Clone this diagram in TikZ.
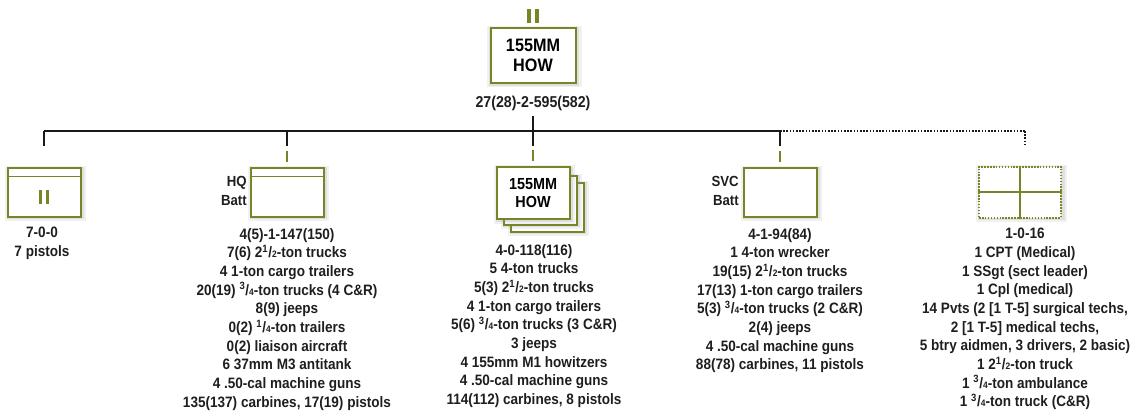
\documentclass[tikz,border=0pt]{standalone}
\usepackage{fontspec}
\setmainfont{Liberation Sans}[FakeStretch=0.9]
\usepackage{tikz}
\usetikzlibrary{positioning,calc,shadows}
\definecolor{unitgreen}{RGB}{120,132,38}
\definecolor{treeblack}{RGB}{25,25,25}
\definecolor{textgrey}{RGB}{30,30,30}
\newcommand{\frc}[2]{\textsuperscript{#1}/{\scriptsize #2}}
\newcommand{\btnbars}[2]{\textcolor{unitgreen}{\rule{#1}{#2}\hspace{3pt}\rule{#1}{#2}}}

\begin{document}
\begin{tikzpicture}[
    x=0.75pt, y=-0.75pt,
    unit/.style={rectangle, draw=unitgreen, line width=1.5pt, fill=white, inner sep=0pt,
                 minimum width=54.75pt, minimum height=36.75pt, align=center,
                 font=\bfseries\fontsize{12pt}{14pt}\selectfont,
                 general shadow={fill=black!45, opacity=0.12, shadow scale=1.12,
                                 shadow xshift=1pt, shadow yshift=-1pt},
                 general shadow={fill=black!45, opacity=0.18, shadow scale=1.06,
                                 shadow xshift=1pt, shadow yshift=-1pt}},
    bigunit/.style={unit, minimum width=63.75pt, minimum height=41.25pt,
                    font=\bfseries\fontsize{13.5pt}{15pt}\selectfont},
    strength/.style={font=\bfseries\fontsize{11.3pt}{14pt}\selectfont, align=center,
                     anchor=north, inner sep=0pt, text=textgrey},
    tag/.style={font=\bfseries\fontsize{11pt}{14pt}\selectfont, align=right,
                anchor=east, inner sep=0pt, text=textgrey},
    unitline/.style={draw=unitgreen, line width=1.3pt},
    tree/.style={line width=1.5pt, treeblack},
    dottedtree/.style={tree, dash pattern=on 1.2pt off 1.2pt},
    stub/.style={line width=1.5pt, unitgreen},
]
\useasboundingbox (0,0) rectangle (1137,411);

% battalion
\node[bigunit] (bn) at (533,55) {155MM\\HOW};
\node[inner sep=0pt] (bnecho) at (533,16) {\btnbars{3pt}{11pt}};
\node[strength, font=\bfseries\fontsize{11.8pt}{14pt}\selectfont] (bnstr) at (533,96) {27(28)-2-595(582)};

% subordinate units
\node[unit] (hqbn) at (44,192) {};
\node[inner sep=0pt] (hqbnecho) at (44,197) {\btnbars{2.2pt}{10pt}};
\node[unit] (hqbty) at (287,192) {};
\node[tag] (hqtag) at (247,191) {HQ\\Batt};
\node[unit] (howc3) at (547,207) {};
\node[unit] (howc2) at (540,200) {};
\node[unit, minimum height=39pt] (howc) at (533,193) {155MM\\HOW};
\node[unit] (svc) at (780,192) {};
\node[tag] (svctag) at (739,191) {SVC\\Batt};
\node[unit, dash pattern=on 1.2pt off 1pt, minimum width=61.5pt, minimum height=38.25pt] (med) at (1020,192) {};

\draw[unitline] ($(hqbn.north west)+(0,10)$) -- ($(hqbn.north east)+(0,10)$);
\draw[unitline] ($(hqbty.north west)+(0,10)$) -- ($(hqbty.north east)+(0,10)$);
\draw[unitline] (med.north) -- (med.south) (med.west) -- (med.east);

% strengths and equipment
\node[strength] (hqbnstr) at (42,227) {7-0-0\\7 pistols};
\node[strength] (hqbtystr) at (287,228) {4(5)-1-147(150)\\
    7(6) 2\frc12-ton trucks\\
    4 1-ton cargo trailers\\
    20(19) \frc34-ton trucks (4 C\&R)\\
    8(9) jeeps\\
    0(2) \frc14-ton trailers\\
    0(2) liaison aircraft\\
    6 37mm M3 antitank\\
    4 .50-cal machine guns\\
    135(137) carbines, 17(19) pistols};
\node[strength] (howcstr) at (534,244) {4-0-118(116)\\
    5 4-ton trucks\\
    5(3) 2\frc12-ton trucks\\
    4 1-ton cargo trailers\\
    5(6) \frc34-ton trucks (3 C\&R)\\
    3 jeeps\\
    4 155mm M1 howitzers\\
    4 .50-cal machine guns\\
    114(112) carbines, 8 pistols};
\node[strength] (svcstr) at (780,228) {4-1-94(84)\\
    1 4-ton wrecker\\
    19(15) 2\frc12-ton trucks\\
    17(13) 1-ton cargo trailers\\
    5(3) \frc34-ton trucks (2 C\&R)\\
    2(4) jeeps\\
    4 .50-cal machine guns\\
    88(78) carbines, 11 pistols};
\node[strength] (medstr) at (1025,228) {1-0-16\\
    1 CPT (Medical)\\
    1 SSgt (sect leader)\\
    1 Cpl (medical)\\
    14 Pvts (2 [1 T-5] surgical techs,\\
    2 [1 T-5] medical techs,\\
    5 btry aidmen, 3 drivers, 2 basic)\\
    1 2\frc12-ton truck\\
    1 \frc34-ton ambulance\\
    1 \frc34-ton truck (C\&R)};

% tree
\coordinate (top) at (533,131);
\draw[tree] ($(bnstr.south)+(0,5)$) -- (top);
\draw[tree] (hqbn |- top) -- (svc |- top);
\draw[dottedtree] (svc |- top) -- (medstr |- top);
\foreach \u in {hqbn,hqbty,howc,svc}
    \draw[tree] (\u |- top) -- ++(0,15);
\draw[dottedtree] (medstr |- top) -- ++(0,14);
\foreach \u in {hqbty,howc,svc}
    \draw[stub] ($(\u.north)+(0,-16)$) -- ($(\u.north)+(0,-5)$);
\end{tikzpicture}
\end{document}
